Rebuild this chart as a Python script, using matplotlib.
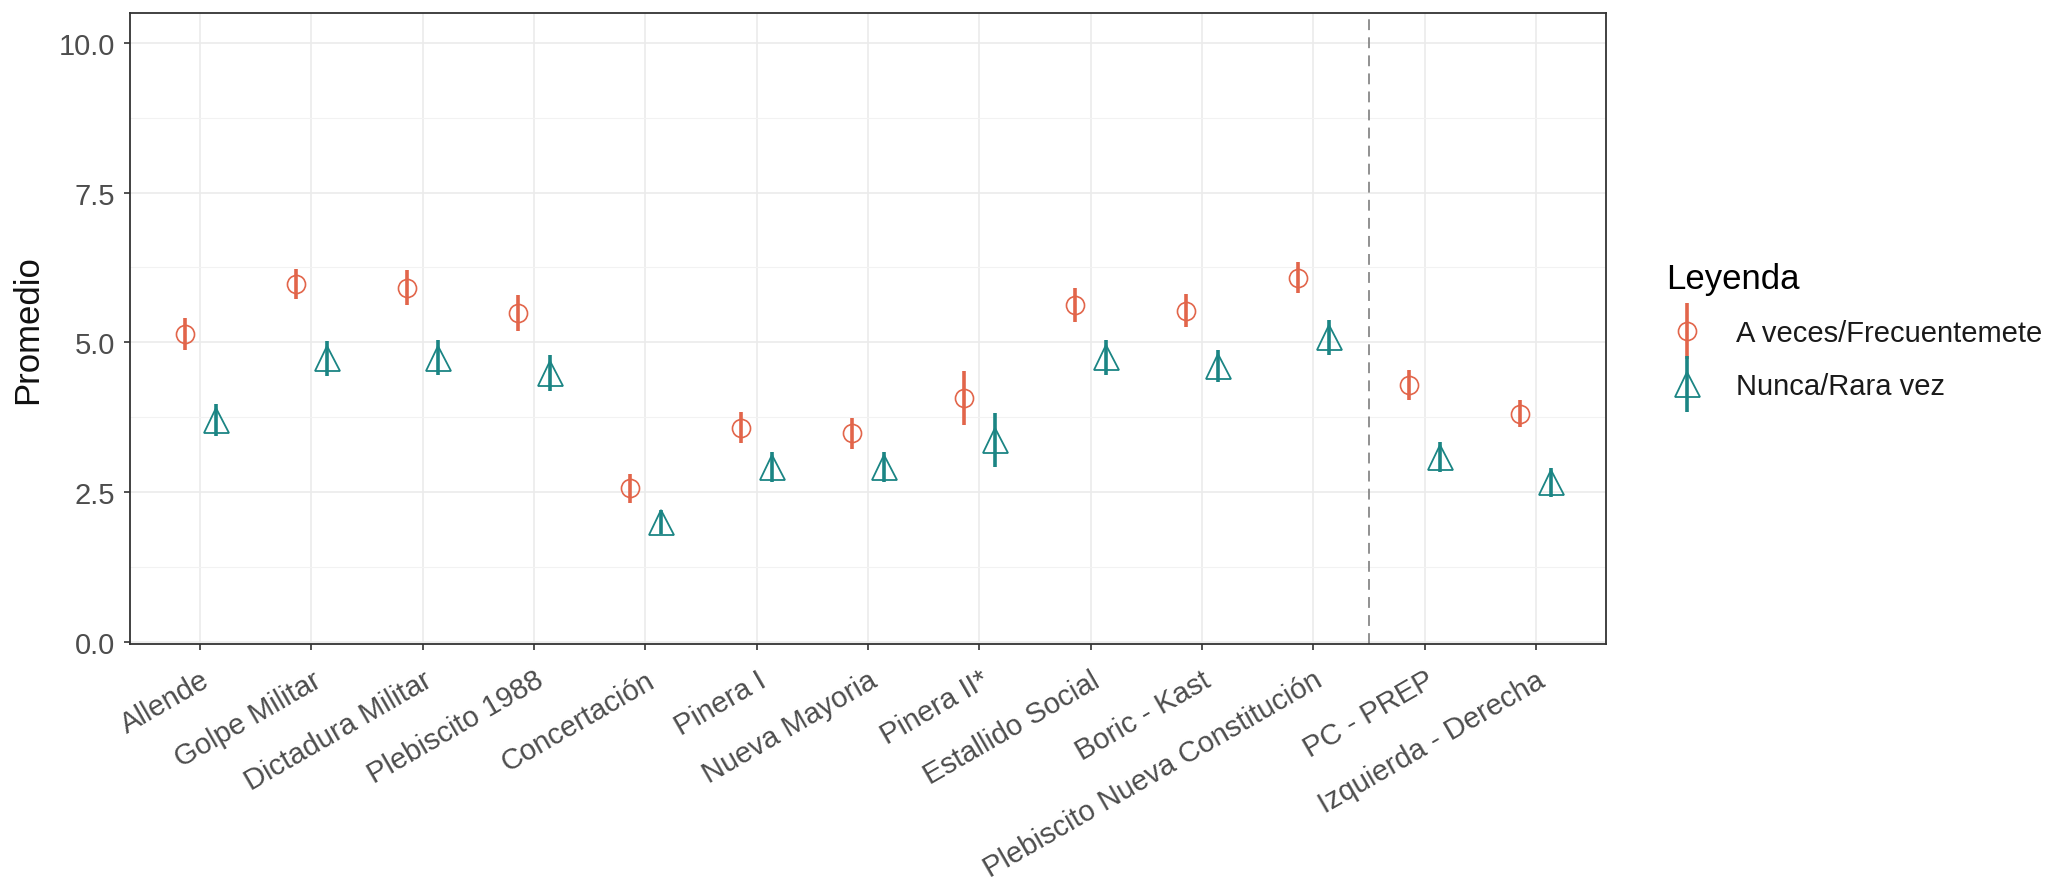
import matplotlib
matplotlib.use("Agg")
import matplotlib.pyplot as plt
import numpy as np
from matplotlib.legend_handler import HandlerErrorbar
from matplotlib.container import ErrorbarContainer

#	-	-	-	-	-	DATA	-	-	-	-	-	#
categorias = [ "Allende", "Golpe Militar", "Dictadura Militar", "Plebiscito 1988",
	"Concertación", "Pinera I", "Nueva Mayoria", "Pinera II*", "Estallido Social",
	"Boric - Kast", "Plebiscito Nueva Constitución", "PC - PREP", "Izquierda - Derecha" ]

# A veces/Frecuentemete
frec_media = [ 5.14, 5.98, 5.91, 5.49, 2.56, 3.57, 3.48, 4.07, 5.62, 5.53, 6.08, 4.28, 3.81 ]
frec_error = [ 0.27, 0.25, 0.29, 0.30, 0.24, 0.26, 0.26, 0.45, 0.28, 0.27, 0.26, 0.25, 0.23 ]

# Nunca/Rara vez
nunca_media = [ 3.70, 4.73, 4.74, 4.49, 2.00, 2.92, 2.92, 3.37, 4.75, 4.60, 5.08, 3.09, 2.66 ]
nunca_error = [ 0.27, 0.29, 0.29, 0.30, 0.20, 0.25, 0.25, 0.45, 0.29, 0.27, 0.30, 0.25, 0.24 ]

series = [ "A veces/Frecuentemete", "Nunca/Rara vez" ]

#	-	-	-	-	-	STYLE	-	-	-	-	-	#
rojo = "#E2654A"
verde = "#1B8584"
fuente = "Liberation Sans"
plt.rcParams['font.family'] = [ fuente, 'DejaVu Sans' ]

fig = plt.figure( figsize=( 20.51, 8.78 ), dpi=100 )
ax = fig.add_axes( [ 130/2051, 233/878, 1476/2051, 631/878 ] )

x = np.arange( len( categorias ) )
dodge = 0.14

# pointrange: linea vertical + marcador abierto
eb1 = ax.errorbar( x - dodge, frec_media, yerr=frec_error, fmt='o', color=rojo,
	ecolor=rojo, elinewidth=2.6, capsize=0, markersize=13,
	markerfacecolor='none', markeredgewidth=1.2, zorder=3 )
eb2 = ax.errorbar( x + dodge, nunca_media, yerr=nunca_error, fmt='^', color=verde,
	ecolor=verde, elinewidth=2.6, capsize=0, markersize=18,
	markerfacecolor='none', markeredgewidth=1.3, zorder=3 )

# linea divisoria
ax.axvline( 10.5, color='#888888', linestyle=( 0, ( 6, 4 ) ), linewidth=1.3, zorder=2 )

#	-	-	-	-	-	AXES	-	-	-	-	-	#
ax.set_xlim( -0.63, len( categorias ) - 1 + 0.63 )
ax.set_ylim( -0.04, 10.5 )
ax.set_yticks( [ 0, 2.5, 5, 7.5, 10 ] )
ax.set_yticklabels( [ "0.0", "2.5", "5.0", "7.5", "10.0" ] )
ax.set_yticks( [ 1.25, 3.75, 6.25, 8.75 ], minor=True )
ax.set_xticks( x )
ax.set_xticklabels( categorias, rotation=30, ha='right', rotation_mode='anchor' )

ax.grid( True, which='major', color='#EBEBEB', linewidth=1.2, zorder=0 )
ax.grid( True, which='minor', axis='y', color='#F2F2F2', linewidth=0.8, zorder=0 )
ax.set_axisbelow( True )

ax.tick_params( axis='both', which='major', length=4.5, width=1.2, color='#333333',
	labelsize=21, labelcolor='#4D4D4D' )
ax.tick_params( axis='y', which='minor', length=0 )
ax.tick_params( axis='y', pad=6 )
ax.tick_params( axis='x', pad=11 )
for s in ax.spines.values():
	s.set_color( '#333333' )
	s.set_linewidth( 1.3 )

ax.set_ylabel( "Promedio", fontsize=25, labelpad=11, color='#111111' )

#	-	-	-	-	-	LEGEND	-	-	-	-	-	#
leg = fig.legend( [ eb1, eb2 ], series, loc='center left', bbox_to_anchor=( 1640/2051, 0.622 ),
	frameon=False, fontsize=21, title="Leyenda", title_fontsize=25,
	handlelength=1.4, handletextpad=1.0, labelspacing=0.85,
	handler_map={ ErrorbarContainer: HandlerErrorbar( xerr_size=0.6, yerr_size=0.95 ) } )
leg._legend_box.align = "left"
for t in leg.get_texts():
	t.set_color( '#1A1A1A' )

fig.savefig( "out.png", dpi=100, facecolor='white' )
